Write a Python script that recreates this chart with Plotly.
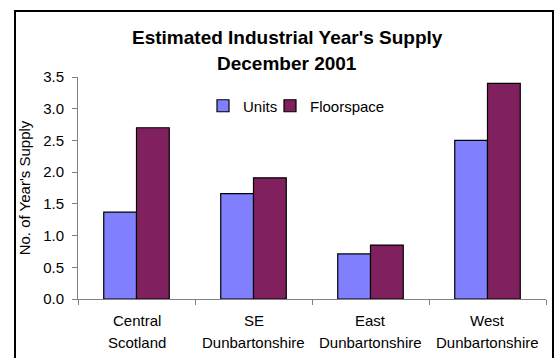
import plotly.graph_objects as go

# Chart data
category_lines = [("Central", "Scotland"), ("SE", "Dunbartonshire"),
                  ("East", "Dunbartonshire"), ("West", "Dunbartonshire")]
categories = [" ".join(c) for c in category_lines]
units = [1.37, 1.66, 0.71, 2.50]
floorspace = [2.70, 1.91, 0.85, 3.40]
y_ticks = [0.0, 0.5, 1.0, 1.5, 2.0, 2.5, 3.0, 3.5]
title_lines = ["Estimated Industrial Year's Supply", "December 2001"]

W, H = 556, 358
L, R, T, B = 78, 10, 77, 59
pw, ph = W - L - R, H - T - B

font = "Liberation Sans, Arial, sans-serif"


def px_x(x):
    return (x - L) / pw


def px_y(y):
    return (H - B - y) / ph


fig = go.Figure()
fig.add_trace(go.Bar(name="Units", x=categories, y=units, legend="legend",
                     marker=dict(color="#8080FF", line=dict(color="#000000", width=1.2))))
fig.add_trace(go.Bar(name="Floorspace", x=categories, y=floorspace, legend="legend2",
                     marker=dict(color="#80205F", line=dict(color="#000000", width=1.2))))

# Outer chart frame
fig.add_shape(type="rect", xref="paper", yref="paper",
              x0=px_x(15), x1=px_x(553), y0=px_y(11), y1=px_y(370),
              line=dict(color="#000000", width=2), fillcolor="rgba(0,0,0,0)", layer="below")

# Two-line bold title
for line, yc in zip(title_lines, [37, 64]):
    fig.add_annotation(text=f"<b>{line}</b>", xref="paper", yref="paper",
                       x=px_x(287), y=px_y(yc), xanchor="center", yanchor="middle",
                       showarrow=False, font=dict(family=font, size=19, color="#000000"))

# Two-line category labels under each group
for cat, (l1, l2) in zip(categories, category_lines):
    for txt, yc in [(l1, 320), (l2, 342)]:
        fig.add_annotation(text=txt, x=cat, xref="x", yref="paper", y=px_y(yc),
                           xanchor="center", yanchor="middle", showarrow=False,
                           font=dict(family=font, size=15, color="#000000"))

legend_style = dict(orientation="h", yanchor="middle", xanchor="left",
                    font=dict(family=font, size=15), bgcolor="rgba(0,0,0,0)", itemwidth=30)

fig.update_layout(
    width=W, height=H,
    margin=dict(l=L, r=R, t=T, b=B),
    paper_bgcolor="white", plot_bgcolor="white",
    barmode="group", bargap=0.44, bargroupgap=0,
    font=dict(family=font, size=15, color="#000000"),
    legend=dict(x=px_x(203), y=px_y(106), **legend_style),
    legend2=dict(x=px_x(270), y=px_y(106), **legend_style),
    showlegend=True,
)

fig.update_yaxes(range=[0, 3.5], tickvals=y_ticks, ticktext=[f"{v:.1f}" for v in y_ticks],
                 showgrid=False, zeroline=False, showline=True, linecolor="#808080", linewidth=1,
                 ticks="outside", ticklen=5, tickcolor="#808080", ticklabelstandoff=5,
                 tickfont=dict(family=font, size=15),
                 title=dict(text="No. of Year's Supply", font=dict(family=font, size=15), standoff=8))
fig.update_xaxes(showgrid=False, showline=True, linecolor="#808080", linewidth=1,
                 ticks="outside", ticklen=5, tickcolor="#808080", tickson="boundaries",
                 showticklabels=False)

fig.write_html("out.html")
